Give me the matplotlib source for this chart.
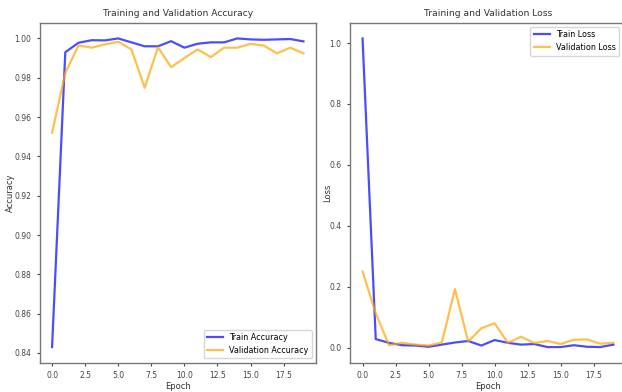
import matplotlib
matplotlib.use("Agg")
import matplotlib.pyplot as plt

epochs = list(range(20))
train_acc = [0.843, 0.993, 0.9978, 0.9991, 0.9990, 1.000, 0.998, 0.996, 0.996, 0.9986,
             0.9953, 0.9973, 0.998, 0.998, 1.000, 0.9995, 0.9993, 0.9995, 0.9997, 0.9985]
val_acc = [0.952, 0.9825, 0.9964, 0.9953, 0.997, 0.9983, 0.9944, 0.9749, 0.9955, 0.9854,
           0.990, 0.9944, 0.9905, 0.9953, 0.9953, 0.9972, 0.9964, 0.9924, 0.9953, 0.9924]
train_loss = [1.015, 0.028, 0.016, 0.008, 0.007, 0.003, 0.010, 0.017, 0.022, 0.007,
              0.025, 0.016, 0.010, 0.012, 0.002, 0.002, 0.008, 0.003, 0.002, 0.010]
val_loss = [0.250, 0.113, 0.008, 0.016, 0.010, 0.007, 0.017, 0.192, 0.020, 0.064,
            0.080, 0.016, 0.036, 0.015, 0.022, 0.012, 0.026, 0.027, 0.013, 0.016]

W, H = 622, 392
fig = plt.figure(figsize=(W / 100, H / 100), dpi=100)

def px_axes(l, r, t, b):
    return fig.add_axes([l / W, 1 - b / H, (r - l) / W, (b - t) / H])

ax1 = px_axes(39.5, 316, 23, 362.5)
ax2 = px_axes(350, 626, 23, 362.5)

blue = "blue"
orange = "orange"
fs_tick = 5.5
fs_label = 6
fs_legend = 5.8
fs_title = 6.6
txt = "#333333"

ax1.plot(epochs, train_acc, color=blue, alpha=0.7, lw=1.6, label="Train Accuracy")
ax1.plot(epochs, val_acc, color=orange, alpha=0.7, lw=1.6, label="Validation Accuracy")
ax1.set_title("Training and Validation Accuracy", fontsize=fs_title, color=txt, pad=5)
ax1.set_xlabel("Epoch", fontsize=fs_label, color=txt, labelpad=1.5)
ax1.set_ylabel("Accuracy", fontsize=fs_label, color=txt, labelpad=-0.5)
ax1.legend(loc="lower right", fontsize=fs_legend)

ax2.plot(epochs, train_loss, color=blue, alpha=0.7, lw=1.6, label="Train Loss")
ax2.plot(epochs, val_loss, color=orange, alpha=0.7, lw=1.6, label="Validation Loss")
ax2.set_title("Training and Validation Loss", fontsize=fs_title, color=txt, pad=5)
ax2.set_xlabel("Epoch", fontsize=fs_label, color=txt, labelpad=1.5)
ax2.set_ylabel("Loss", fontsize=fs_label, color=txt, labelpad=-2)
ax2.legend(loc="upper right", fontsize=fs_legend, bbox_to_anchor=(0.99, 1.0))

for ax in (ax1, ax2):
    ax.tick_params(labelsize=fs_tick, colors="#444444", length=2.5, width=0.8)
    for s in ax.spines.values():
        s.set_color("#777777")
        s.set_linewidth(1.0)

fig.savefig("out.png", dpi=100)
